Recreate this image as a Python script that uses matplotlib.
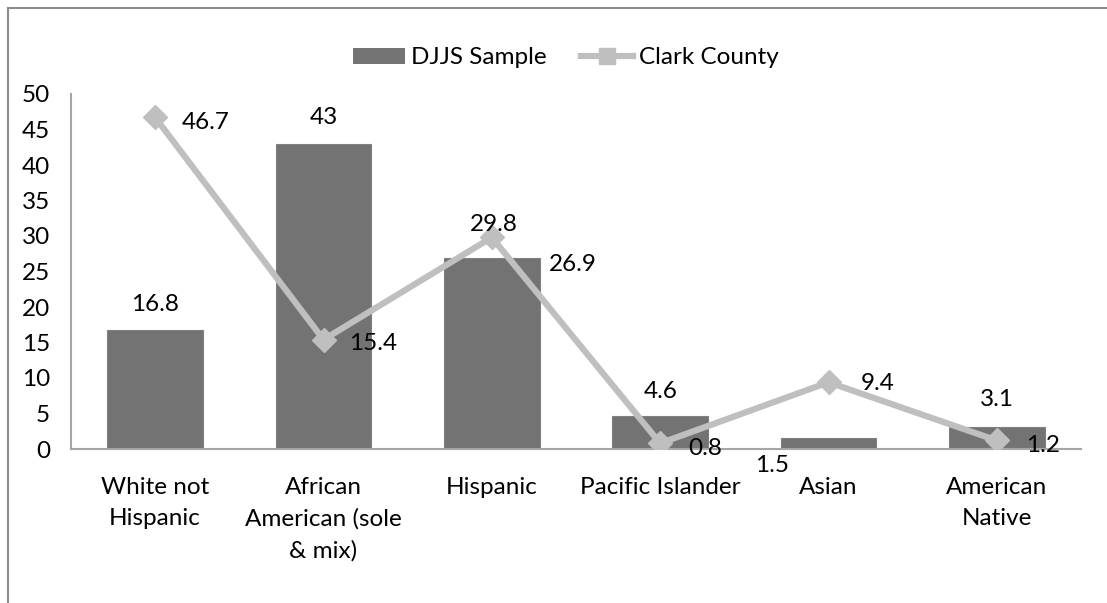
import matplotlib
matplotlib.use("Agg")
import matplotlib.pyplot as plt
from matplotlib.lines import Line2D
import numpy as np

plt.rcParams['font.family'] = ['Lato', 'DejaVu Sans']

categories = ["White not\nHispanic", "African\nAmerican (sole\n& mix)", "Hispanic",
              "Pacific Islander", "Asian", "American\nNative"]
djjs_sample = [16.8, 43, 26.9, 4.6, 1.5, 3.1]
clark_county = [46.7, 15.4, 29.8, 0.8, 9.4, 1.2]
y_ticks = [0, 5, 10, 15, 20, 25, 30, 35, 40, 45, 50]

# label offsets (pixels) from each mark
bar_label_offsets = [(0, 27), (0, 28), (81, -4), (0, 27), (-56, -25), (0, 29)]
line_label_offsets = [(50, -3), (50, -2), (2, 15), (45, -3), (49, 1), (46, -3)]

BAR_COLOR = "#737373"
LINE_COLOR = "#BFBFBF"
AXIS_COLOR = "#A6A6A6"
FS = 17.5

W, H = 1107, 603
fig = plt.figure(figsize=(W / 100, H / 100), dpi=100)
ax = fig.add_axes([71 / W, 1 - 449 / H, (1081 - 71) / W, (449 - 94) / H])

x = np.arange(len(categories))
ax.bar(x, djjs_sample, width=0.57, color=BAR_COLOR, edgecolor="#808080",
       linewidth=0.8, zorder=2)
ax.plot(x, clark_county, color=LINE_COLOR, linewidth=4.5, marker="D", markersize=12,
        markerfacecolor=LINE_COLOR, markeredgecolor=LINE_COLOR, zorder=3)

ax.set_xlim(-0.5, len(categories) - 0.5)
ax.set_ylim(0, 50)
ax.set_yticks(y_ticks)
ax.set_xticks(x)
ax.set_xticklabels(categories, fontsize=FS, linespacing=1.6)
ax.tick_params(axis="y", labelsize=FS, length=0, pad=15)
ax.tick_params(axis="x", length=0, pad=20)
for lab in ax.get_yticklabels():
    lab.set_verticalalignment("center_baseline")

for side in ("top", "right"):
    ax.spines[side].set_visible(False)
for side in ("left", "bottom"):
    ax.spines[side].set_color(AXIS_COLOR)
    ax.spines[side].set_linewidth(1.5)

for xi, v, off in zip(x, djjs_sample, bar_label_offsets):
    ax.annotate(f"{v:g}", (xi, v), xytext=off, textcoords="offset pixels",
                ha="center", va="center_baseline", fontsize=FS, color="black", zorder=4)
for xi, v, off in zip(x, clark_county, line_label_offsets):
    ax.annotate(f"{v:g}", (xi, v), xytext=off, textcoords="offset pixels",
                ha="center", va="center_baseline", fontsize=FS, color="black", zorder=4)

# legend
legend_handles = [
    plt.Rectangle((0, 0), 1, 1, facecolor=BAR_COLOR, edgecolor="none"),
    Line2D([0], [0], color=LINE_COLOR, linewidth=4.5, marker="s", markersize=11,
           markerfacecolor=LINE_COLOR, markeredgecolor=LINE_COLOR),
]
fig.legend(legend_handles, ["DJJS Sample", "Clark County"], loc="center",
           bbox_to_anchor=(566 / W, 1 - 58 / H), ncol=2, frameon=False,
           fontsize=FS, handlelength=2.15, handletextpad=0.25, columnspacing=1.4,
           handleheight=0.65)

# chart border (top and left edges)
fig.add_artist(Line2D([8 / W, 8 / W], [0, 1 - 7.5 / H], transform=fig.transFigure,
                      color="#8C8C8C", linewidth=1.5))
fig.add_artist(Line2D([8 / W, 1], [1 - 7.5 / H, 1 - 7.5 / H], transform=fig.transFigure,
                      color="#8C8C8C", linewidth=1.5))

fig.savefig("out.png", dpi=100)
